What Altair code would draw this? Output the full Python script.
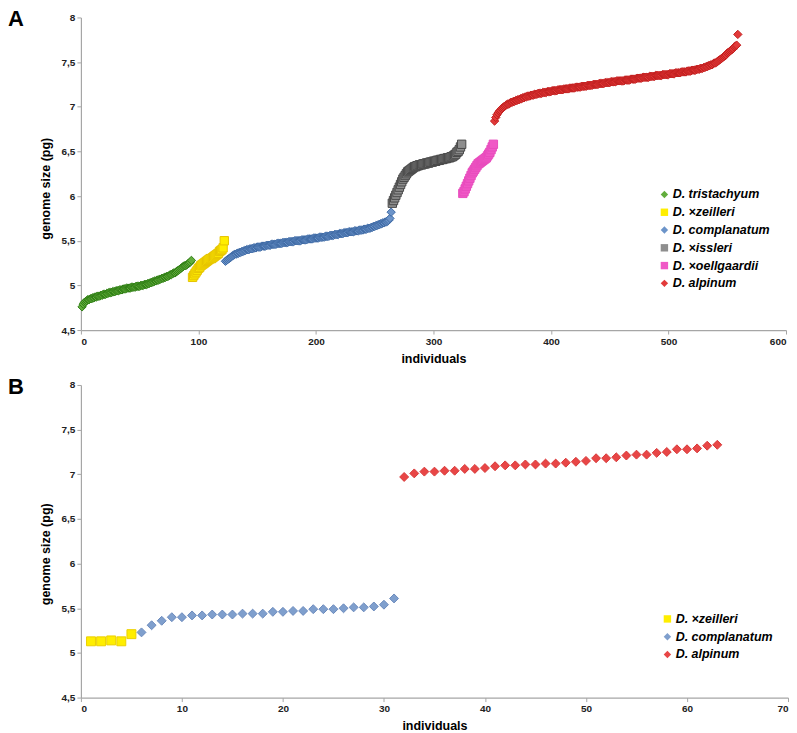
import altair as alt
import pandas as pd

# ---------------- Panel A data ----------------
species_A = ["D. tristachyum", "D. ×zeilleri", "D. complanatum", "D. ×issleri", "D. ×oellgaardii", "D. alpinum"]
shapes_A = ["diamond", "square", "diamond", "square", "square", "diamond"]
fills_A = ["#62ad3c", "#ffee00", "#6c94c9", "#8e8e8e", "#f058c6", "#e23a3a"]
strokes_A = ["#2f7d15", "#e6c400", "#3f6aa5", "#4a4a4a", "#e84cbd", "#c22020"]
start_A = [1, 95, 123, 265, 325, 352]

tristachyum_A = [
    4.76, 4.79, 4.81, 4.82, 4.83, 4.84, 4.84, 4.85, 4.85, 4.86,
    4.86, 4.87, 4.87, 4.88, 4.88, 4.88, 4.89, 4.89, 4.90, 4.90,
    4.90, 4.91, 4.91, 4.92, 4.92, 4.92, 4.93, 4.93, 4.93, 4.94,
    4.94, 4.94, 4.95, 4.95, 4.95, 4.96, 4.96, 4.96, 4.97, 4.97,
    4.97, 4.97, 4.98, 4.98, 4.98, 4.98, 4.99, 4.99, 4.99, 4.99,
    5.00, 5.00, 5.00, 5.01, 5.01, 5.01, 5.02, 5.02, 5.03, 5.03,
    5.04, 5.04, 5.05, 5.05, 5.06, 5.06, 5.07, 5.07, 5.08, 5.08,
    5.09, 5.09, 5.10, 5.10, 5.11, 5.12, 5.12, 5.13, 5.14, 5.14,
    5.15, 5.16, 5.17, 5.18, 5.19, 5.20, 5.21, 5.22, 5.22, 5.23,
    5.24, 5.25, 5.26, 5.28,
]
zeilleri_A = [
    5.09, 5.11, 5.13, 5.15, 5.17, 5.19, 5.20, 5.22, 5.23, 5.24,
    5.25, 5.26, 5.27, 5.28, 5.29, 5.30, 5.30, 5.31, 5.32, 5.33,
    5.34, 5.35, 5.36, 5.38, 5.39, 5.40, 5.42, 5.50,
]
complanatum_A = [
    5.27, 5.28, 5.29, 5.30, 5.31, 5.32, 5.33, 5.34, 5.35, 5.35,
    5.36, 5.36, 5.37, 5.37, 5.38, 5.38, 5.39, 5.39, 5.40, 5.40,
    5.40, 5.41, 5.41, 5.41, 5.42, 5.42, 5.42, 5.43, 5.43, 5.43,
    5.43, 5.44, 5.44, 5.44, 5.44, 5.45, 5.45, 5.45, 5.45, 5.46,
    5.46, 5.46, 5.46, 5.46, 5.47, 5.47, 5.47, 5.47, 5.47, 5.48,
    5.48, 5.48, 5.48, 5.48, 5.49, 5.49, 5.49, 5.49, 5.49, 5.50,
    5.50, 5.50, 5.50, 5.50, 5.50, 5.51, 5.51, 5.51, 5.51, 5.51,
    5.52, 5.52, 5.52, 5.52, 5.52, 5.53, 5.53, 5.53, 5.53, 5.53,
    5.54, 5.54, 5.54, 5.54, 5.54, 5.55, 5.55, 5.55, 5.55, 5.56,
    5.56, 5.56, 5.56, 5.57, 5.57, 5.57, 5.57, 5.58, 5.58, 5.58,
    5.58, 5.59, 5.59, 5.59, 5.59, 5.60, 5.60, 5.60, 5.60, 5.60,
    5.61, 5.61, 5.61, 5.61, 5.62, 5.62, 5.62, 5.62, 5.63, 5.63,
    5.63, 5.64, 5.64, 5.64, 5.65, 5.65, 5.66, 5.66, 5.67, 5.67,
    5.68, 5.68, 5.69, 5.69, 5.70, 5.70, 5.71, 5.71, 5.72, 5.73,
    5.75, 5.82,
]
issleri_A = [
    5.92, 5.95, 5.98, 6.01, 6.04, 6.07, 6.10, 6.13, 6.16, 6.19,
    6.21, 6.23, 6.25, 6.27, 6.28, 6.29, 6.30, 6.31, 6.32, 6.33,
    6.33, 6.34, 6.34, 6.35, 6.35, 6.35, 6.36, 6.36, 6.36, 6.37,
    6.37, 6.37, 6.38, 6.38, 6.38, 6.39, 6.39, 6.39, 6.40, 6.40,
    6.40, 6.41, 6.41, 6.41, 6.42, 6.42, 6.42, 6.43, 6.43, 6.43,
    6.44, 6.44, 6.45, 6.46, 6.47, 6.49, 6.50, 6.52, 6.55, 6.58,
]
oellgaardii_A = [
    6.03, 6.05, 6.08, 6.11, 6.14, 6.17, 6.20, 6.23, 6.26, 6.28,
    6.30, 6.32, 6.34, 6.36, 6.37, 6.38, 6.39, 6.40, 6.41, 6.42,
    6.43, 6.45, 6.47, 6.49, 6.52, 6.55, 6.58,
]
alpinum_A = [
    6.84, 6.88, 6.91, 6.93, 6.95, 6.96, 6.98, 6.99, 7.00,
    7.01, 7.02, 7.03, 7.03, 7.04, 7.05, 7.05, 7.06, 7.06, 7.07,
    7.07, 7.08, 7.08, 7.09, 7.09, 7.10, 7.10, 7.11, 7.11, 7.12,
    7.12, 7.12, 7.13, 7.13, 7.13, 7.14, 7.14, 7.14, 7.15, 7.15,
    7.15, 7.15, 7.16, 7.16, 7.16, 7.16, 7.17, 7.17, 7.17, 7.17,
    7.18, 7.18, 7.18, 7.18, 7.18, 7.19, 7.19, 7.19, 7.19, 7.19,
    7.20, 7.20, 7.20, 7.20, 7.20, 7.21, 7.21, 7.21, 7.21, 7.21,
    7.22, 7.22, 7.22, 7.22, 7.22, 7.23, 7.23, 7.23, 7.23, 7.23,
    7.24, 7.24, 7.24, 7.24, 7.24, 7.25, 7.25, 7.25, 7.25, 7.25,
    7.26, 7.26, 7.26, 7.26, 7.26, 7.27, 7.27, 7.27, 7.27, 7.27,
    7.28, 7.28, 7.28, 7.28, 7.28, 7.29, 7.29, 7.29, 7.29, 7.29,
    7.29, 7.29, 7.30, 7.30, 7.30, 7.30, 7.30, 7.31, 7.31, 7.31,
    7.31, 7.31, 7.32, 7.32, 7.32, 7.32, 7.32, 7.33, 7.33, 7.33,
    7.33, 7.33, 7.33, 7.34, 7.34, 7.34, 7.34, 7.34, 7.35, 7.35,
    7.35, 7.35, 7.35, 7.35, 7.36, 7.36, 7.36, 7.36, 7.36, 7.36,
    7.37, 7.37, 7.37, 7.37, 7.37, 7.38, 7.38, 7.38, 7.38, 7.38,
    7.39, 7.39, 7.39, 7.39, 7.39, 7.40, 7.40, 7.40, 7.40, 7.41,
    7.41, 7.41, 7.41, 7.42, 7.42, 7.42, 7.43, 7.43, 7.43, 7.44,
    7.44, 7.45, 7.45, 7.46, 7.46, 7.47, 7.47, 7.48, 7.49, 7.49,
    7.50, 7.51, 7.52, 7.53, 7.54, 7.55, 7.56, 7.57, 7.58, 7.60,
    7.61, 7.62, 7.63, 7.64, 7.65, 7.67, 7.68, 7.69, 7.81,
]
values_A = [tristachyum_A, zeilleri_A, complanatum_A, issleri_A, oellgaardii_A, alpinum_A]

# ---------------- Panel B data ----------------
species_B = ["D. ×zeilleri", "D. complanatum", "D. alpinum"]
shapes_B = ["square", "diamond", "diamond"]
fills_B = ["#ffee00", "#7f9fcd", "#e84646"]
strokes_B = ["#ecd000", "#6b8bbd", "#d83a3a"]
start_B = [1, 6, 32]
zeilleri_B = [5.13, 5.13, 5.14, 5.13, 5.21]
complanatum_B = [
    5.23, 5.31, 5.36, 5.40, 5.40, 5.42, 5.42, 5.43, 5.43, 5.43,
    5.44, 5.44, 5.44, 5.46, 5.46, 5.47, 5.47, 5.49, 5.49, 5.49,
    5.50, 5.51, 5.51, 5.52, 5.54, 5.61,
]
alpinum_B = [
    6.97, 7.01, 7.03, 7.03, 7.04, 7.04, 7.06, 7.06, 7.07, 7.09,
    7.10, 7.10, 7.11, 7.11, 7.12, 7.12, 7.13, 7.14, 7.15, 7.18,
    7.18, 7.19, 7.21, 7.22, 7.22, 7.24, 7.25, 7.28, 7.28, 7.29,
    7.32, 7.33,
]
values_B = [zeilleri_B, complanatum_B, alpinum_B]

y_ticks = [4.5, 5, 5.5, 6, 6.5, 7, 7.5, 8]
x_ticks_A = [0, 100, 200, 300, 400, 500, 600]
x_ticks_B = [0, 10, 20, 30, 40, 50, 60, 70]


def build_frame(species, starts, values):
    rows = []
    for sp, st, vals in zip(species, starts, values):
        for i, v in enumerate(vals):
            rows.append({"species": sp, "individual": st + i, "size": v})
    return pd.DataFrame(rows)


df_A = build_frame(species_A, start_A, values_A)
df_B = build_frame(species_B, start_B, values_B)

FONT = "Liberation Sans"


def panel(df, species, shapes, fills, strokes, xmax, xticks, width, letter,
          legend_x, legend_y, size_pts, title_y):
    base = alt.Chart(df).mark_point(filled=True, opacity=1, strokeWidth=1, size=size_pts).encode(
        x=alt.X("individual:Q",
                scale=alt.Scale(domain=[0, xmax], nice=False, zero=True),
                axis=alt.Axis(values=xticks, title="individuals", titlePadding=6)),
        y=alt.Y("size:Q",
                scale=alt.Scale(domain=[4.5, 8], nice=False, zero=False),
                axis=alt.Axis(values=y_ticks, title="genome size (pg)",
                              labelExpr="replace(toString(datum.value), '.', ',')",
                              titleX=-35, titleY=title_y, titleAngle=-90,
                              titleAlign="center", titleBaseline="middle")),
        fill=alt.Fill("species:N",
                      scale=alt.Scale(domain=species, range=fills),
                      legend=alt.Legend(orient="none", legendX=legend_x, legendY=legend_y,
                                        title=None, labelFont=FONT, labelFontSize=12.5,
                                        labelFontStyle="italic", labelFontWeight="bold",
                                        labelColor="black", symbolSize=55,
                                        symbolStrokeWidth=0, rowPadding=4.8,
                                        labelOffset=2, padding=0)),
        shape=alt.Shape("species:N", scale=alt.Scale(domain=species, range=shapes)),
        stroke=alt.Stroke("species:N", scale=alt.Scale(domain=species, range=strokes), legend=None),
        order=alt.Order("individual:Q"),
    )
    label = alt.Chart(pd.DataFrame({"t": [letter]})).mark_text(
        font=FONT, fontSize=22, fontWeight="bold", align="left", baseline="top",
        color="black"
    ).encode(text="t:N", x=alt.value(-73), y=alt.value(-8))
    return alt.layer(base, label).resolve_scale(fill="independent", shape="independent",
                                                  stroke="independent").properties(
        width=width, height=313)


chart_A = panel(df_A, species_A, shapes_A, fills_A, strokes_A, 600, x_ticks_A, 706, "A",
                578, 171, 70, 171)
chart_B = panel(df_B, species_B, shapes_B, fills_B, strokes_B, 70, x_ticks_B, 708, "B",
                581, 228, 80, 169)

chart = alt.vconcat(chart_A, chart_B, spacing=11).resolve_scale(
    fill="independent", shape="independent", stroke="independent"
).resolve_legend(fill="independent", shape="independent", stroke="independent").configure(
    padding=0, background="white"
).configure_view(stroke=None).configure_axis(
    grid=False, labelFont=FONT, labelFontSize=10, labelFontWeight="bold", labelColor="#222222",
    titleFont=FONT, titleFontSize=12.5, titleFontWeight="bold", titleColor="black",
    domainColor="#a6a6a6", tickColor="#a6a6a6", tickSize=4, domainWidth=1.2, labelPadding=2
)

chart.save("out.html", embed_options={"renderer": "svg", "actions": False})
